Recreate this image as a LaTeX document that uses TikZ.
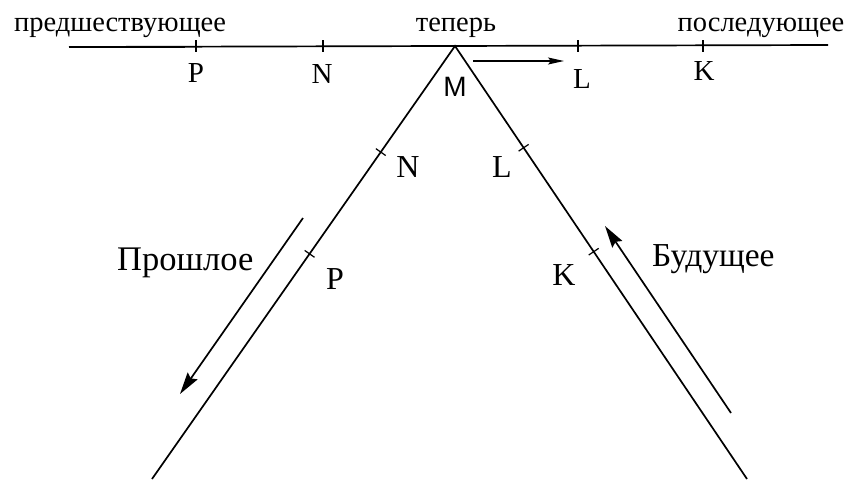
\documentclass[tikz,border=0pt]{standalone}
\usepackage{fontspec}
\setmainfont{Liberation Serif}
\newfontfamily\handfont{Liberation Sans}
\usetikzlibrary{arrows.meta,calc}
\begin{document}
\begin{tikzpicture}[x=1pt,y=-1pt,
  lbl/.style={font=\fontsize{32}{32}\selectfont, inner sep=0pt, anchor=base},
  toplbl/.style={font=\fontsize{29}{29}\selectfont, inner sep=0pt, anchor=base},
  word/.style={font=\fontsize{28.5}{28.5}\selectfont, inner sep=0pt, anchor=base},
  bigword/.style={font=\fontsize{33.5}{33.5}\selectfont, inner sep=0pt, anchor=base west},
  ln/.style={line width=1.7pt},
  tickmark/.style={line width=1.2pt},
  arr/.style={line width=1.7pt, -{Stealth[length=22pt,width=12pt,inset=3pt]}}]
\useasboundingbox (0,0) rectangle (850,479);
% main lines
\coordinate (Lend) at (69,47);
\coordinate (Rend) at (828,45);
\coordinate (M) at (455,46);
\coordinate (LB) at (152,479);
\coordinate (RB) at (747,479);
\draw[ln] (Lend) -- (Rend);
\draw[line width=2.8pt] (Lend) -- (185,47);
\draw[ln] (LB) -- (M) -- (RB);
% ticks on the top line
\foreach \n/\x in {tP/196,tN/323,tL/578,tK/703}{
  \coordinate (\n) at (\x,46);
  \draw[tickmark] ($(\n)+(0,-6)$) -- ($(\n)+(0,6)$);
}
% ticks on the legs
\coordinate (lN) at ($(M)!0.245!(LB)$);
\coordinate (lP) at ($(M)!0.48!(LB)$);
\coordinate (rL) at ($(M)!0.235!(RB)$);
\coordinate (rK) at ($(M)!0.475!(RB)$);
\foreach \n in {lN,lP}{
  \draw[tickmark] ($(\n)!6pt!90:(M)$) -- ($(\n)!6pt!-90:(M)$);
}
\foreach \n in {rL,rK}{
  \draw[tickmark] ($(\n)!6pt!90:(M)$) -- ($(\n)!6pt!-90:(M)$);
}
% words on top
\node[word] (pred) at (120,31) {предшествующее};
\node[word] (ten) at (456,31) {теперь};
\node[word] (posl) at (761,31) {последующее};
% letters on top line
\node[toplbl] (P1) at (196,82) {P};
\node[toplbl] (N1) at (322,83) {N};
\node[toplbl] (L1) at (582,88) {L};
\node[toplbl] (K1) at (704,80) {K};
\node[inner sep=0pt, anchor=base, font=\handfont\fontsize{28}{28}\selectfont] (M1) at (455,96) {M};
% letters on legs
\node[lbl] (N2) at (408,177) {N};
\node[lbl] (P2) at (335,289) {P};
\node[lbl] (L2) at (502,177) {L};
\node[lbl] (K2) at (564,285) {K};
% arrow near now
\coordinate (a1) at (473,61);
\coordinate (a2) at (564,61);
\draw[line width=1.5pt, -{Stealth[length=16pt,width=7pt,inset=3pt]}] (a1) -- (a2);
% past arrow
\coordinate (p1) at (303,218);
\coordinate (p2) at (180,394);
\draw[arr] (p1) -- (p2);
% future arrow
\coordinate (f1) at (731,413);
\coordinate (f2) at (605,226);
\draw[arr] (f1) -- (f2);
\node[bigword, font=\fontsize{34.5}{34.5}\selectfont] (past) at (117,270) {Прошлое};
\node[bigword] (fut) at (652,266) {Будущее};
\end{tikzpicture}
\end{document}
